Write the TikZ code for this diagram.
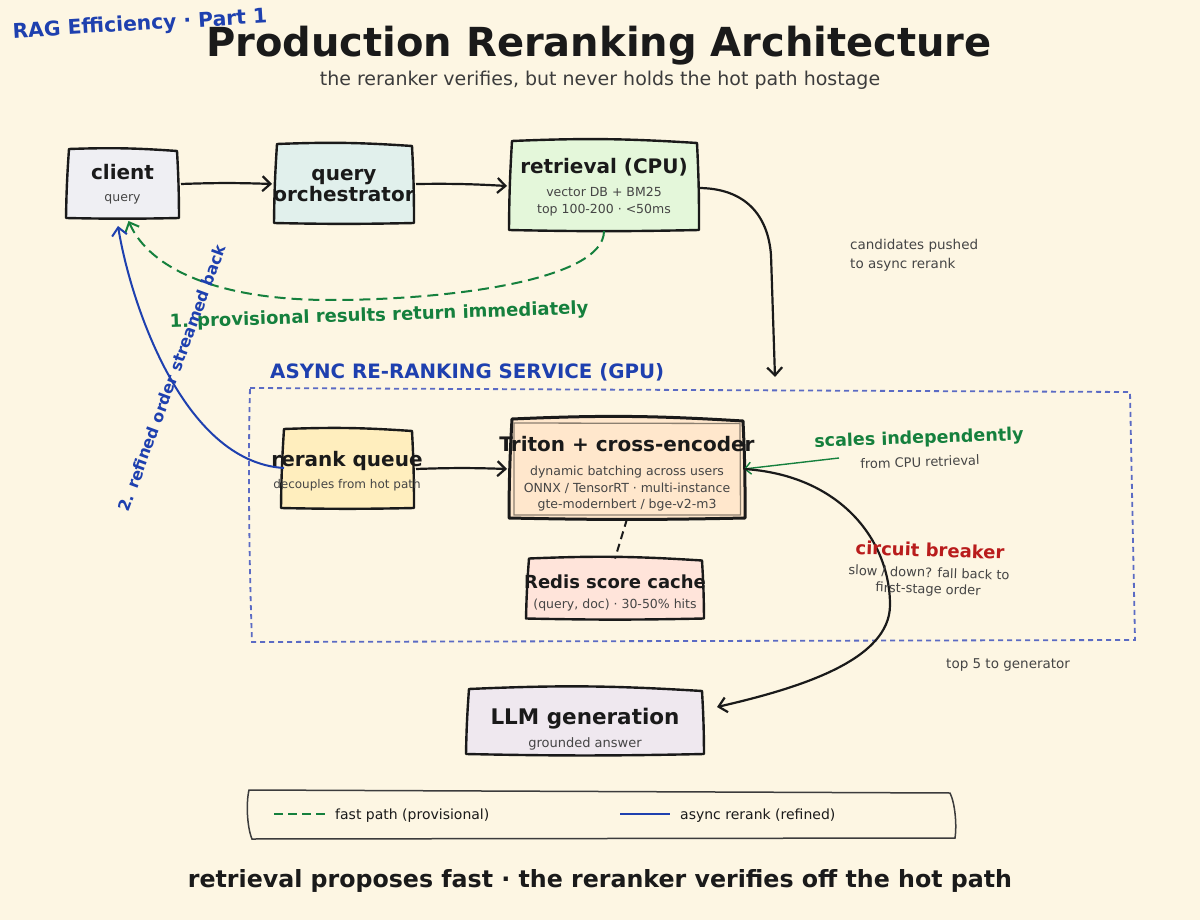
\documentclass[tikz,border=0pt]{standalone}
\usepackage{fontspec}
\setmainfont{DejaVu Sans}
\usetikzlibrary{arrows.meta}
\definecolor{bgC}{HTML}{FDF6E3}
\definecolor{ink}{HTML}{1A1A1A}
\definecolor{subC}{HTML}{454545}
\definecolor{blueC}{HTML}{1E40AF}
\definecolor{greenC}{HTML}{15803D}
\definecolor{redC}{HTML}{B91C1C}
\definecolor{dashC}{HTML}{5B6BC4}
\definecolor{fClient}{HTML}{EFEFF3}
\definecolor{fOrch}{HTML}{E1F0EC}
\definecolor{fRetr}{HTML}{E4F7DA}
\definecolor{fQueue}{HTML}{FFEEBE}
\definecolor{fTriton}{HTML}{FFE7CC}
\definecolor{fRedis}{HTML}{FFE4DA}
\definecolor{fLLM}{HTML}{EFE8EF}
\definecolor{innerC}{HTML}{8C8070}
\newcommand\fsz[1]{\fontsize{#1}{#1}\selectfont}
\newcommand\skbox[3][2.4pt]{\filldraw[fill=#3,draw=ink,line width=#1,line join=round]
 ([shift={(2,0)}]#2.north west) to[bend left=3] ([shift={(-1,2)}]#2.north east) to[bend left=1.5] ([shift={(1,-1)}]#2.south east) to[bend left=1.2] ([shift={(-1,-1)}]#2.south west) to[bend left=1.5] cycle;}
\tikzset{
  boxshape/.style={inner sep=0pt, outer sep=0pt, rectangle},
  ttl/.style={font=\bfseries\fsz{20}, text=ink, inner sep=0pt, anchor=base},
  sub/.style={font=\fsz{12.5}, text=subC, inner sep=0pt, anchor=base},
  note/.style={font=\fsz{13.5}, text=subC, inner sep=0pt},
  conn/.style={draw=ink, line width=2.2pt, -{Straight Barb[length=8pt,width=15pt]}},
  fastp/.style={draw=greenC, line width=2pt, dash pattern=on 11pt off 6pt, -{Straight Barb[length=8pt,width=15pt]}},
  refp/.style={draw=blueC, line width=2pt, -{Straight Barb[length=8pt,width=15pt]}},
}
\begin{document}
\begin{tikzpicture}[x=1pt,y=-1pt]
\useasboundingbox (0,0) rectangle (1200,920);
\fill[bgC] (0,0) rectangle (1200,920);

% headings
\node[font=\bfseries\fsz{20.3}, text=blueC, rotate=3.4, inner sep=0pt] (tag) at (140,25) {RAG Efficiency · Part 1};
\node[font=\bfseries\fsz{40}, text=ink, inner sep=0pt, anchor=base] (title) at (599,57) {Production Reranking Architecture};
\node[font=\fsz{19}, text=ink!85, inner sep=0pt, anchor=base] (subtitle) at (600,86) {the reranker verifies, but never holds the hot path hostage};

% async service frame
\draw[draw=dashC, line width=1.8pt, dash pattern=on 5pt off 4pt] (250,388) -- (1130,392) -- (1135,640) -- (252,642) .. controls (249,560) and (248,460) .. cycle;
\node[font=\bfseries\fsz{19.8}, text=blueC, inner sep=0pt, anchor=base west] (asynclbl) at (270,378.5) {ASYNC RE-RANKING SERVICE (GPU)};

% box shapes
\node[boxshape, minimum width=111pt, minimum height=70pt] (client) at (122.5,184) {};
\node[boxshape, minimum width=138pt, minimum height=80pt] (orch) at (344,184) {};
\node[boxshape, minimum width=188pt, minimum height=90pt] (retr) at (604,186) {};
\node[boxshape, minimum width=131pt, minimum height=80pt] (queue) at (347.5,469) {};
\node[boxshape, minimum width=234pt, minimum height=100pt] (triton) at (627,469) {};
\node[boxshape, minimum width=176pt, minimum height=61pt] (redis) at (615,589) {};
\node[boxshape, minimum width=236pt, minimum height=66pt] (llm) at (585,722) {};

\skbox{client}{fClient}
\skbox{orch}{fOrch}
\skbox{retr}{fRetr}
\skbox{queue}{fQueue}
\skbox[3pt]{triton}{fTriton}
\draw[draw=innerC, line width=1.3pt] ([shift={(4,4)}]triton.north west) -- ([shift={(-4,4.5)}]triton.north east) -- ([shift={(-3.5,-4)}]triton.south east) -- ([shift={(4,-4)}]triton.south west) -- cycle;
\skbox{redis}{fRedis}
\skbox{llm}{fLLM}

% box texts
\node[ttl] (clientT) at (122.5,180) {client};
\node[sub, font=\fsz{12.5}] (clientS) at (122.5,202) {query};
\node[ttl] (orchT1) at (344,181) {query};
\node[ttl] (orchT2) at (344,202) {orchestrator};
\node[ttl] (retrT) at (604,174) {retrieval (CPU)};
\node[sub] (retrS1) at (604,197) {vector DB + BM25};
\node[sub] (retrS2) at (604,213.5) {top 100-200 · <50ms};
\node[ttl] (queueT) at (347,466) {rerank queue};
\node[sub, font=\fsz{12}] (queueS) at (347,488.5) {decouples from hot path};
\node[ttl] (tritonT) at (627,451.5) {Triton + cross-encoder};
\node[sub] (tritonS1) at (627,475) {dynamic batching across users};
\node[sub] (tritonS2) at (627,492) {ONNX / TensorRT · multi-instance};
\node[sub] (tritonS3) at (627,508.5) {gte-modernbert / bge-v2-m3};
\node[ttl, font=\bfseries\fsz{18}] (redisT) at (615,588.5) {Redis score cache};
\node[sub] (redisS) at (615,608.5) {(query, doc) · 30-50\% hits};
\node[ttl, font=\bfseries\fsz{21.5}] (llmT) at (585,724) {LLM generation};
\node[sub, font=\fsz{13}] (llmS) at (585,747) {grounded answer};

% connectors
\draw[conn] ([shift={(3,0)}]client.east) to[bend left=2] ([shift={(-3,0)}]orch.west);
\draw[conn] ([shift={(3,0)}]orch.east) to[bend left=2] ([shift={(-3,0)}]retr.west);
\coordinate (asyncin) at (775,377);
\draw[conn] ([shift={(0,2)}]retr.east) .. controls (745,188) and (768,215) .. (771,255) -- (asyncin);
\draw[fastp] (retr.south) .. controls (604,280) and (450,300) .. (330,300) .. controls (220,300) and (150,270) .. ([shift={(6,2)}]client.south);
\draw[refp] ([shift={(2,-1)}]queue.west) .. controls (182,462) and (130,300) .. ([shift={(-4.5,7)}]client.south);
\draw[conn] ([shift={(3,0)}]queue.east) to[bend left=2] ([shift={(-3,0)}]triton.west);
\draw[draw=ink, line width=2pt, dash pattern=on 8pt off 5pt] (triton.south) -- (redis.north);
\coordinate (sclstart) at (839,458);
\draw[draw=greenC, line width=1.4pt, -{Straight Barb[length=6pt,width=12pt]}] (sclstart) -- (triton.east);
\draw[conn] (triton.east) .. controls (840,475) and (890,540) .. (890,605) .. controls (890,660) and (800,688) .. ([shift={(14,-15)}]llm.east);

% labels
\node[font=\bfseries\fsz{18}, text=greenC, rotate=1.9, inner sep=0pt] (fastlbl) at (379,316) {1. provisional results return immediately};
\node[font=\bfseries\fsz{16}, text=blueC, rotate=69.8, inner sep=0pt] (reflbl) at (172,378) {2. refined order streamed back};
\node[note, anchor=base west] (cand1) at (850,250) {candidates pushed};
\node[note, anchor=base west] (cand2) at (850,268.3) {to async rerank};
\node[font=\bfseries\fsz{17.5}, text=greenC, rotate=1.9, inner sep=0pt] (scl1) at (919,439) {scales independently};
\node[note, font=\fsz{13}, rotate=1.9] (scl2) at (920,462) {from CPU retrieval};
\node[font=\bfseries\fsz{18}, text=redC, rotate=-1.9, inner sep=0pt] (cb1) at (930,550) {circuit breaker};
\node[note, font=\fsz{13}, rotate=-1.9] (cb2) at (929,573) {slow / down? fall back to};
\node[note, font=\fsz{13}, rotate=-1.9] (cb3) at (928,590) {first-stage order};
\node[note, anchor=base west] (top5) at (946,668) {top 5 to generator};

% legend
\draw[draw=ink!85, line width=1.5pt] (249,790) -- (950,793) .. controls (955,803) and (957,825) .. (955,838) -- (252,839) .. controls (247,827) and (246,803) .. cycle;
\draw[draw=greenC, line width=2pt, dash pattern=on 9pt off 5pt] (274,814) -- (327,814);
\node[font=\fsz{14}, text=ink, inner sep=0pt, anchor=base west] (leg1) at (335,819) {fast path (provisional)};
\draw[draw=blueC, line width=2.5pt] (620,814) -- (670,814);
\node[font=\fsz{14}, text=ink, inner sep=0pt, anchor=base west] (leg2) at (680,819) {async rerank (refined)};

% footer
\node[font=\bfseries\fsz{23.7}, text=ink, inner sep=0pt, anchor=base] (footer) at (600,887) {retrieval proposes fast · the reranker verifies off the hot path};
\end{tikzpicture}
\end{document}
